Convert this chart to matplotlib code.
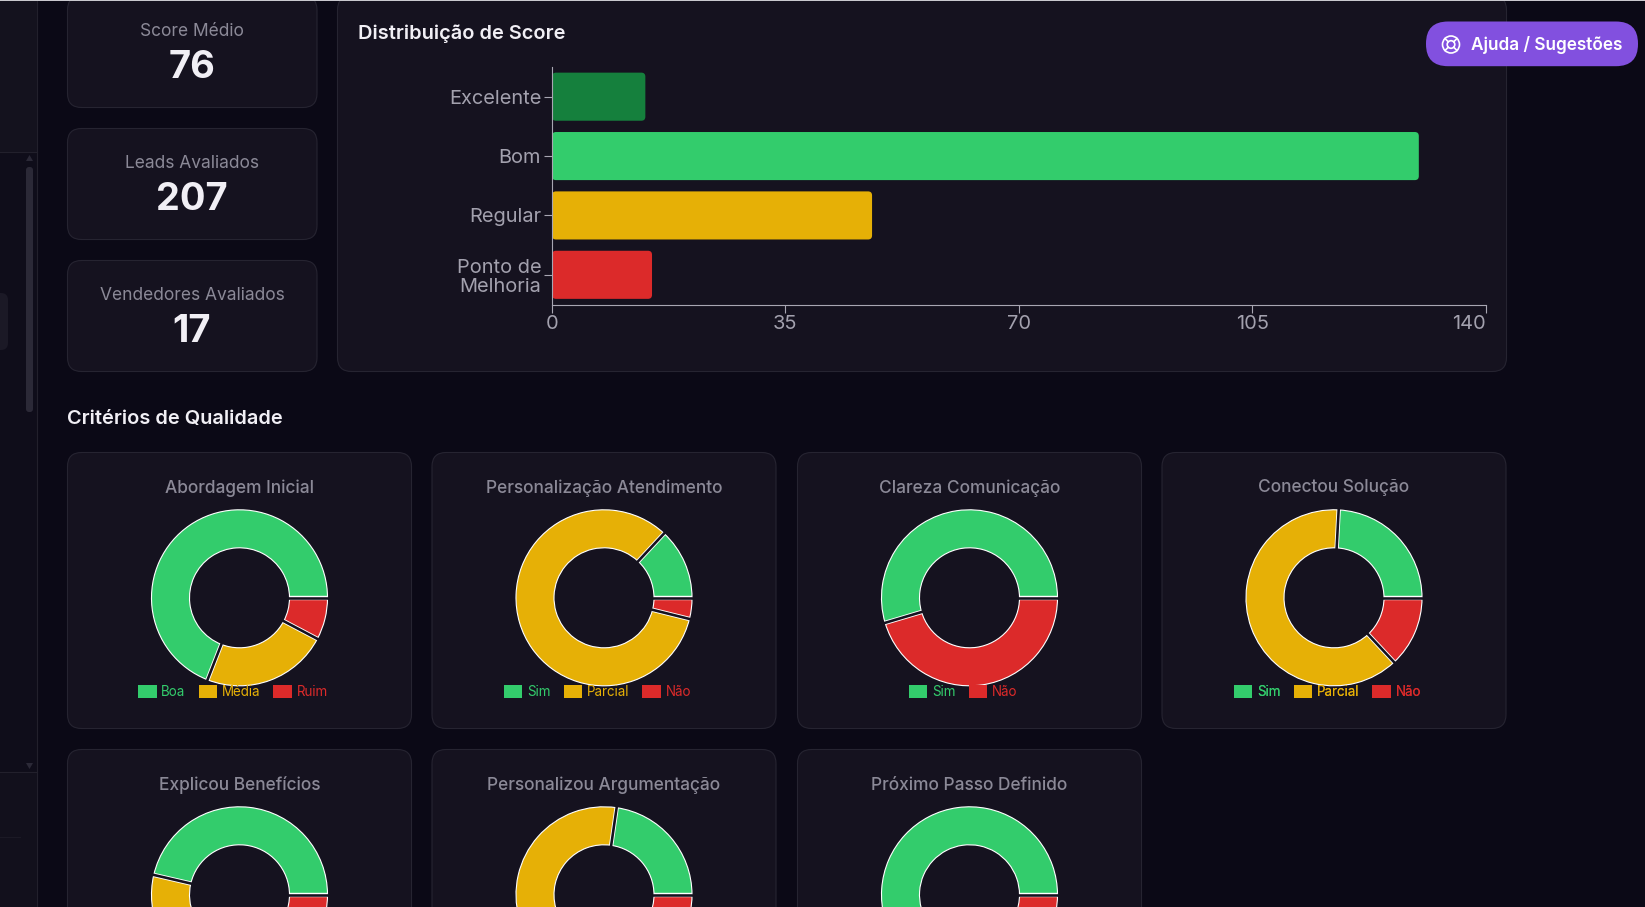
import matplotlib
matplotlib.use('Agg')
import matplotlib.pyplot as plt
import numpy as np
from matplotlib.patches import Circle, FancyBboxPatch, Patch, Polygon, Rectangle

plt.rcParams['font.family'] = ['Inter', 'DejaVu Sans']

W, H = 1645, 907
BG = '#0b0916'
CARD = '#15121f'
CARD_EDGE = '#262431'
MUTED = '#8b8997'
AXIS_TEXT = '#a3a1ae'
BRIGHT = '#f1eff5'
GREEN = '#33cc6c'
DARK_GREEN = '#15803d'
YELLOW = '#e6b006'
RED = '#dc2a2a'
PURPLE = '#8250df'

# indicadores
kpi_labels = ['Score Médio', 'Leads Avaliados', 'Vendedores Avaliados']
kpi_values = ['76', '207', '17']

# distribuição de score
score_labels = ['Excelente', 'Bom', 'Regular', 'Ponto de\nMelhoria']
score_values = [14, 130, 48, 15]
score_colors = [DARK_GREEN, GREEN, YELLOW, RED]
score_ticks = [0, 35, 70, 105, 140]

# critérios de qualidade
criteria_titles = ['Abordagem Inicial', 'Personalização Atendimento', 'Clareza Comunicação',
                   'Conectou Solução', 'Explicou Benefícios', 'Personalizou Argumentação',
                   'Próximo Passo Definido']
criteria_labels = [['Boa', 'Média', 'Ruim'], ['Sim', 'Parcial', 'Não'], ['Sim', 'Não'],
                   ['Sim', 'Parcial', 'Não'], ['Sim', 'Parcial', 'Não'], ['Sim', 'Parcial', 'Não'],
                   ['Sim', 'Não']]
criteria_values = [[143, 48, 16], [27, 172, 8], [113, 94], [50, 130, 27],
                   [96, 86, 25], [47, 131, 29], [180, 27]]
criteria_colors = [[GREEN, YELLOW, RED], [GREEN, YELLOW, RED], [GREEN, RED], [GREEN, YELLOW, RED],
                   [GREEN, YELLOW, RED], [GREEN, YELLOW, RED], [GREEN, RED]]


def px(size):
    # tamanho em pixels para pontos (dpi 100)
    return size * 0.72


def pixel_axes(fig, zorder):
    ax = fig.add_axes([0, 0, 1, 1], zorder=zorder)
    ax.set_xlim(0, W)
    ax.set_ylim(H, 0)
    ax.axis('off')
    ax.patch.set_alpha(0)
    return ax


def axes_at(fig, x0, y0, x1, y1, zorder=2):
    return fig.add_axes([x0 / W, 1 - y1 / H, (x1 - x0) / W, (y1 - y0) / H], zorder=zorder)


def card(ax, x0, y0, x1, y1, radius=14):
    ax.add_patch(FancyBboxPatch((x0, y0), x1 - x0, y1 - y0,
                                boxstyle=f'round,pad=0,rounding_size={radius}',
                                fc=CARD, ec=CARD_EDGE, lw=0.8))


def draw_sidebar(ax):
    ax.add_patch(Rectangle((0, 0), 37, 152, fc='#14121e', ec='none'))
    ax.add_patch(Rectangle((0, 152), 37, 620, fc='#0f0d1a', ec='none'))
    ax.add_patch(Rectangle((0, 772), 37, H - 772, fc='#12101c', ec='none'))
    ax.plot([37, 37], [0, H], color='#22202c', lw=0.8)
    ax.plot([0, 37], [152, 152], color='#22202c', lw=0.8)
    ax.plot([0, 37], [772, 772], color='#22202c', lw=0.8)
    ax.plot([0, 20], [837, 837], color='#1b1925', lw=0.8)
    ax.add_patch(FancyBboxPatch((26, 167), 7, 245, boxstyle='round,pad=0,rounding_size=3',
                                fc='#2b2937', ec='none'))
    ax.add_patch(Polygon([(26, 161), (33, 161), (29.5, 155)], fc='#2b2937', ec='none'))
    ax.add_patch(Polygon([(26, 763), (33, 763), (29.5, 769)], fc='#2b2937', ec='none'))
    ax.add_patch(FancyBboxPatch((-12, 293), 20, 57, boxstyle='round,pad=0,rounding_size=7',
                                fc='#1b1926', ec='none'))


def draw_kpis(ax):
    for i, (label, value) in enumerate(zip(kpi_labels, kpi_values)):
        top = -4 if i == 0 else 128.5 + 132 * (i - 1)
        bottom = 107.5 + 132 * i
        card(ax, 67.5, top, 317, bottom)
        ax.text(192, 31 + 132 * i, label, color=MUTED, fontsize=px(17.4),
                ha='center', va='center')
        ax.text(192, 68.5 + 132 * i, value, color=BRIGHT, fontsize=px(38),
                fontweight='bold', ha='center', va='center')


def draw_score_chart(fig):
    ax = axes_at(fig, 552, 67, 1485.5, 304.5)
    ax.patch.set_alpha(0)
    y_pos = list(range(len(score_values)))
    bars = ax.barh(y_pos, score_values, height=0.81, color='none')
    ax.set_xlim(score_ticks[0], score_ticks[-1])
    ax.set_ylim(len(score_values) - 0.5, -0.5)
    # cantos arredondados: aspecto entre as escalas de x e y em pixels
    aspect = (140 / 933.5) ** -1 / 59.4
    for bar, color in zip(bars, score_colors):
        ax.add_patch(FancyBboxPatch((bar.get_x(), bar.get_y()), bar.get_width(), bar.get_height(),
                                    boxstyle='round,pad=0,rounding_size=0.6',
                                    mutation_aspect=aspect, fc=color, ec='none', zorder=2))
    ax.set_yticks(y_pos, score_labels, linespacing=1.08)
    ax.set_xticks(score_ticks)
    ax.tick_params(colors='#a8a6b2', labelcolor=AXIS_TEXT, labelsize=px(20), length=px(8), width=0.8, pad=2)
    # o último rótulo fica alinhado à direita, dentro do gráfico
    ax.get_xticklabels()[-1].set_ha('right')
    for side in ('top', 'right'):
        ax.spines[side].set_visible(False)
    for side in ('left', 'bottom'):
        ax.spines[side].set_color('#a8a6b2')
        ax.spines[side].set_linewidth(0.8)


def draw_donut(fig, overlay, cx, cy, values, colors, labels, with_legend):
    outer = 88
    inner = 50
    ax = axes_at(fig, cx - outer * 1.05, cy - outer * 1.05, cx + outer * 1.05, cy + outer * 1.05)
    ax.patch.set_alpha(0)
    wedges, _ = ax.pie(values, colors=colors, startangle=0, radius=1,
                       wedgeprops=dict(width=1 - inner / outer, edgecolor='white', linewidth=0.8))
    ax.set_xlim(-1.05, 1.05)
    ax.set_ylim(-1.05, 1.05)
    # espaço entre as fatias, com o contorno branco dos dois lados
    for wedge in wedges:
        angle = np.deg2rad(wedge.theta1)
        ca, sa = np.cos(angle), np.sin(angle)
        r0, r1 = inner / outer, 1
        ax.plot([r0 * ca, r1 * ca], [r0 * sa, r1 * sa], color='white', lw=px(4.4),
                solid_capstyle='butt', zorder=5)
        ax.plot([(r0 - 0.03) * ca, (r1 + 0.03) * ca], [(r0 - 0.03) * sa, (r1 + 0.03) * sa],
                color=CARD, lw=px(2.6), solid_capstyle='butt', zorder=6)
    if with_legend:
        handles = [Patch(fc=c, ec='none', label=l) for c, l in zip(colors, labels)]
        leg = overlay.legend(handles=handles, loc='center', bbox_to_anchor=(cx - 6.5, cy + 94.5),
                             bbox_transform=overlay.transData, ncol=len(labels), frameon=False,
                             fontsize=px(13.4), labelcolor=colors, handlelength=1.36, handleheight=1.08,
                             handletextpad=0.36, columnspacing=0.98, borderpad=0, borderaxespad=0)
        overlay.add_artist(leg)


def draw_help_button(ax):
    ax.add_patch(FancyBboxPatch((1426, 21.5), 212, 44.7, boxstyle='round,pad=0,rounding_size=22',
                                fc=PURPLE, ec='none'))
    cx, cy = 1451, 44.5
    ax.add_patch(Circle((cx, cy), 8.5, fc='none', ec='white', lw=1.2))
    ax.add_patch(Circle((cx, cy), 3.8, fc='none', ec='white', lw=1.2))
    for sx, sy in [(-1, -1), (1, -1), (-1, 1), (1, 1)]:
        ax.plot([cx + sx * 2.7, cx + sx * 6], [cy + sy * 2.7, cy + sy * 6], color='white', lw=1.2)
    ax.text(1471, 45, 'Ajuda / Sugestões', color='white', fontsize=px(17.2), fontweight='semibold',
            ha='left', va='center')


fig = plt.figure(figsize=(W / 100, H / 100), dpi=100, facecolor=BG)
base = pixel_axes(fig, 0)
overlay = pixel_axes(fig, 3)

base.add_patch(Rectangle((0, 0), W, 1.2, fc='#c9c8ce', ec='none', zorder=10))
draw_sidebar(base)
draw_kpis(base)

card(base, 337.5, -4, 1506.5, 371.5)
base.text(358, 33.5, 'Distribuição de Score', color=BRIGHT, fontsize=px(20), fontweight='semibold',
          ha='left', va='center')
draw_score_chart(fig)

base.text(67, 419, 'Critérios de Qualidade', color=BRIGHT, fontsize=px(20), fontweight='semibold',
          ha='left', va='center')

card_lefts = [67.5, 432, 797.5, 1162]
card_tops = [452.5, 749.5]
for i, title in enumerate(criteria_titles):
    row, col = divmod(i, 4)
    x0 = card_lefts[col]
    y0 = card_tops[row]
    card(base, x0, y0, x0 + 344, y0 + 276)
    center = x0 + 172
    base.text(center, y0 + 35.5, title, color=MUTED, fontsize=px(17.3), fontweight='medium',
              ha='center', va='center')
    draw_donut(fig, overlay, center, y0 + 145.3, criteria_values[i], criteria_colors[i],
               criteria_labels[i], row == 0)

draw_help_button(overlay)

fig.savefig('out.png', dpi=100, facecolor=BG)
